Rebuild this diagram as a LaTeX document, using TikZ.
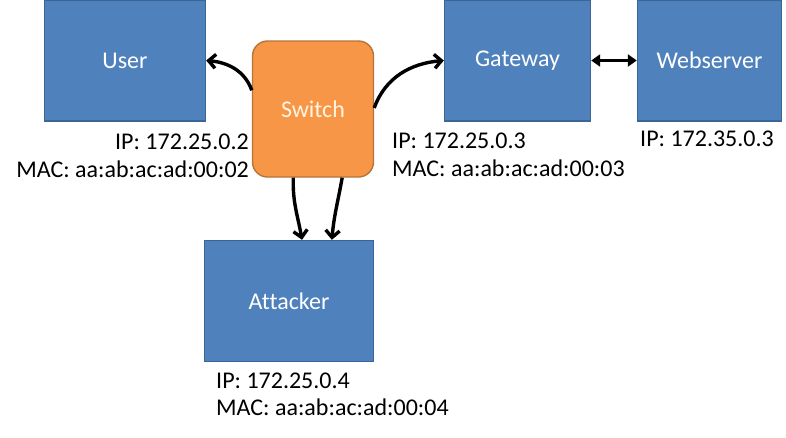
\documentclass[tikz,border=0pt]{standalone}
\usepackage{fontspec}
\setmainfont[Ligatures=NoCommon]{Carlito}
\usetikzlibrary{arrows.meta}
\definecolor{boxblue}{HTML}{4F81BD}
\definecolor{boxedge}{HTML}{3A6596}
\definecolor{swfill}{HTML}{F79646}
\definecolor{swedge}{HTML}{B7743A}
\definecolor{swtext}{HTML}{FFF4E0}
\tikzset{
  netbox/.style={draw=boxedge, fill=boxblue, line width=1.4pt, inner sep=0pt,
    text=white, font=\fontsize{24}{28}\selectfont},
  switchbox/.style={draw=swedge, fill=swfill, line width=1.4pt, inner sep=0pt,
    rounded corners=15pt, text=swtext, font=\fontsize{24}{28}\selectfont},
  info/.style={inner sep=0pt, font=\fontsize{24}{28}\selectfont, text=black},
  link/.style={line width=3.4pt, -{Straight Barb[length=7pt,width=14pt,line width=3.4pt]}},
  dlink/.style={line width=3.4pt, {Triangle[length=9pt,width=12pt]}-{Triangle[length=9pt,width=12pt]}}
}
\begin{document}
\begin{tikzpicture}[x=1pt,y=-1pt]
\useasboundingbox (0,0) rectangle (786,437);
\node[netbox, minimum width=161pt, minimum height=121pt] (user) at (125,60.5) {User};
\node[netbox, minimum width=146pt, minimum height=121pt] (gw) at (517.5,60.5) {Gateway};
\node[netbox, minimum width=144pt, minimum height=121pt] (web) at (709.5,60.5) {Webserver};
\node[netbox, minimum width=169pt, minimum height=121pt] (att) at (289,301) {Attacker};
\node[switchbox, minimum width=121pt, minimum height=136pt] (sw) at (313,109) {Switch};

\node[info, anchor=base east] (uip) at (249,149) {IP: 172.25.0.2};
\node[info, anchor=base east] (umac) at (249,177) {MAC: aa:ab:ac:ad:00:02};
\node[info, anchor=base west] (gip) at (392,148) {IP: 172.25.0.3};
\node[info, anchor=base west] (gmac) at (392,176) {MAC: aa:ab:ac:ad:00:03};
\node[info, anchor=base west] (wip) at (640,146) {IP: 172.35.0.3};
\node[info, anchor=base west] (aip) at (216,388) {IP: 172.25.0.4};
\node[info, anchor=base west] (amac) at (216,415) {MAC: aa:ab:ac:ad:00:04};

\draw[link] (sw.163) to[out=110, in=-5] (user.east);
\draw[link] (sw.1) to[out=70, in=185] (gw.west);
\draw[link] (sw.-106) to[out=-92, in=100] (att.78);
\draw[link] (sw.-67) to[out=-100, in=85] (att.55);
\draw[dlink] (gw.east) -- (web.west);
\end{tikzpicture}
\end{document}
